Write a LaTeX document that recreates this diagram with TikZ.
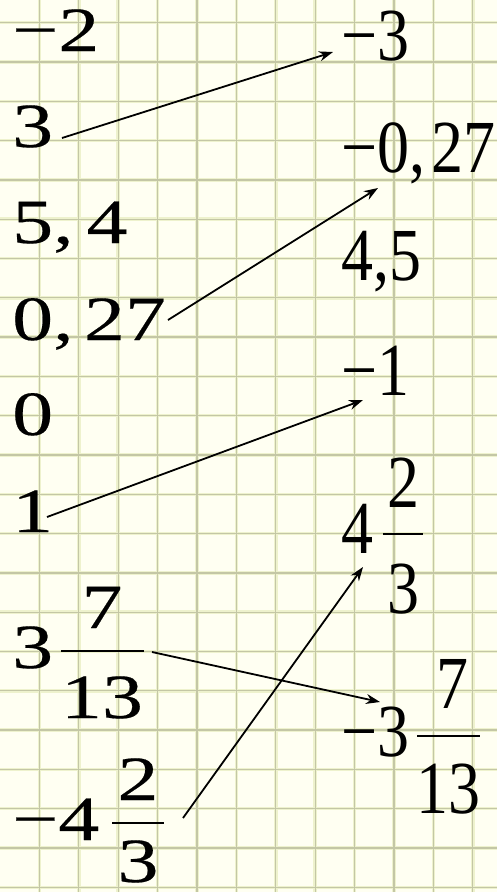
\documentclass[tikz,border=0pt]{standalone}
\usepackage{fontspec}
\setmainfont{Liberation Serif}
\newfontfamily\leftfont[FakeBold=0.3]{Liberation Serif}
\usetikzlibrary{arrows.meta}
\definecolor{bgcol}{RGB}{255,255,242}
\definecolor{gridhalo}{RGB}{238,242,205}
\definecolor{gridcore}{RGB}{196,199,165}
\newcommand{\lt}[1]{\scalebox{1.3}[1]{#1}}
\newcommand{\rt}[1]{\scalebox{1}[1.17]{#1}}
\begin{document}
\begin{tikzpicture}[x=1pt,y=-1pt,
  L/.style={anchor=base west, inner sep=0pt, text depth=0pt, font=\leftfont\fontsize{63}{63}\selectfont},
  Lc/.style={anchor=base, inner sep=0pt, text depth=0pt, font=\leftfont\fontsize{63}{63}\selectfont},
  R/.style={anchor=base west, inner sep=0pt, font=\fontsize{64}{64}\selectfont},
  Rc/.style={anchor=base, inner sep=0pt, font=\fontsize{64}{64}\selectfont},
  link/.style={line width=1.8pt, -{Stealth[length=14pt,width=10pt]}},
  fbar/.style={line width=2.6pt},
  halo/.style={gridhalo, line width=3.5pt},
  core/.style={gridcore, line width=1.3pt}]
\useasboundingbox (0,0) rectangle (497,892);
\fill[bgcol] (0,0) rectangle (497,892);
\foreach \i in {1,...,12} {\draw[halo] (\i*39.4,0) -- (\i*39.4,892);}
\foreach \j in {0,...,22} {\draw[halo] (0,22.7+\j*39.3) -- (497,22.7+\j*39.3);}
\foreach \i in {1,...,12} {\draw[core] (\i*39.4,0) -- (\i*39.4,892);}
\foreach \j in {0,...,22} {\draw[core] (0,22.7+\j*39.3) -- (497,22.7+\j*39.3);}
% left column
\node[L] (lm2) at (12,51) {\lt{−2}};
\node[L] (l3) at (12,147) {\lt{3}};
\node[L] (l54) at (12,243) {\lt{5,\kern10pt 4}};
\node[L] (l027) at (12,340) {\lt{0,\kern8pt 27}};
\node[L] (l0) at (12,435) {\lt{0}};
\node[L] (l1) at (12,532) {\lt{1}};
\node[L] (lmixA) at (12,668) {\lt{3}};
\node[Lc] (lmixAn) at (102,628) {\lt{7}};
\node[Lc] (lmixAd) at (102,718) {\lt{13}};
\draw[fbar] (61,651) -- (144,651);
\node[L] (lmixB) at (12,840) {\lt{−4}};
\node[Lc] (lmixBn) at (138,800) {\lt{2}};
\node[Lc] (lmixBd) at (138,882) {\lt{3}};
\draw[fbar] (112,823) -- (164,823);
% right column
\node[R] (rm3) at (341,60) {\rt{−3}};
\node[R] (rm027) at (341,172) {\rt{−0,\kern6pt 27}};
\node[R] (r45) at (341,280) {\rt{4,5}};
\node[R] (rm1) at (341,395) {\rt{−1}};
\node[R] (rmixA) at (341,553) {\rt{4}};
\node[Rc] (rmixAn) at (403,507) {\rt{2}};
\node[Rc] (rmixAd) at (403,613) {\rt{3}};
\draw[fbar] (383,534) -- (423,534);
\node[R] (rmixB) at (341,756) {\rt{−3}};
\node[Rc] (rmixBn) at (452,708) {\rt{7}};
\node[Rc] (rmixBd) at (448,813) {\rt{13}};
\draw[fbar] (417,736) -- (480,736);
% connector ends
\coordinate (s1) at (62,138);  \coordinate (e1) at (333,52);
\coordinate (s2) at (168,320); \coordinate (e2) at (378,188);
\coordinate (s3) at (47,517);  \coordinate (e3) at (363,400);
\coordinate (s4) at (152,652); \coordinate (e4) at (380,702);
\coordinate (s5) at (183,818); \coordinate (e5) at (363,567);
\draw[link] (s1) -- (e1);
\draw[link] (s2) -- (e2);
\draw[link] (s3) -- (e3);
\draw[link] (s4) -- (e4);
\draw[link] (s5) -- (e5);
\end{tikzpicture}
\end{document}
